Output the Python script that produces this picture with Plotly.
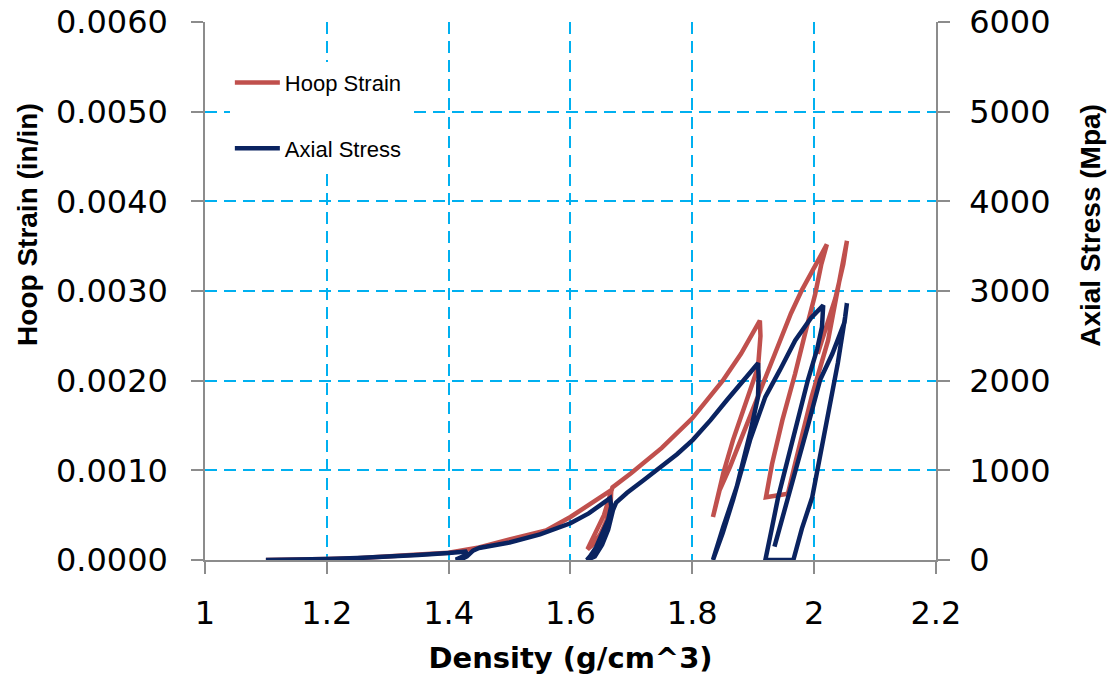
import plotly.graph_objects as go

# ---------------- data ----------------
hoop_density = [
    1.10, 1.15, 1.20, 1.25, 1.29, 1.35, 1.40, 1.45, 1.50, 1.56, 1.60, 1.635, 1.667,
    1.666, 1.660, 1.650, 1.640, 1.628,
    1.640, 1.655, 1.669, 1.70, 1.75, 1.80, 1.85, 1.88, 1.911,
    1.912, 1.908, 1.890, 1.867, 1.851, 1.837, 1.834,
    1.845, 1.862, 1.890, 1.915, 1.941, 1.962, 1.980, 2.000, 2.021,
    2.012, 2.002, 1.985, 1.969, 1.948, 1.931, 1.921,
    1.940, 1.957,
    1.969, 1.996, 2.023, 2.039, 2.054,
    2.048, 2.035, 2.020, 2.006,
]
hoop_strain = [
    0.00000, 0.00000, 0.00001, 0.00002, 0.00004, 0.00006, 0.00008, 0.00014, 0.00023, 0.00033, 0.00048, 0.00063, 0.00078,
    0.00062, 0.00045, 0.00030, 0.00019, 0.00012,
    0.00029, 0.00050, 0.00081, 0.00097, 0.00125, 0.00158, 0.00200, 0.00230, 0.00267,
    0.00250, 0.00215, 0.00178, 0.00134, 0.00097, 0.00059, 0.00048,
    0.00078, 0.00104, 0.00152, 0.00195, 0.00240, 0.00275, 0.00301, 0.00326, 0.00352,
    0.00330, 0.00297, 0.00252, 0.00208, 0.00156, 0.00107, 0.00070,
    0.00072, 0.00074,
    0.00108, 0.00182, 0.00245, 0.00301, 0.00356,
    0.00330, 0.00292, 0.00260, 0.00230,
]

stress_density = [
    1.10, 1.15, 1.20, 1.25, 1.29, 1.35, 1.40, 1.43,
    1.425, 1.412, 1.418, 1.430, 1.440,
    1.45, 1.50, 1.55, 1.60, 1.63, 1.665,
    1.667, 1.662, 1.652, 1.642, 1.632, 1.627,
    1.640, 1.652, 1.662, 1.670, 1.675, 1.693, 1.72, 1.747, 1.775, 1.801, 1.83, 1.857, 1.885, 1.908,
    1.909, 1.908, 1.895, 1.873, 1.851, 1.834,
    1.850, 1.867, 1.895, 1.920, 1.944, 1.969, 1.995, 2.015,
    2.013, 2.005, 1.990, 1.969, 1.955, 1.941, 1.930, 1.920,
    1.966,
    1.980, 1.997, 2.023, 2.039, 2.051, 2.054,
    2.050, 2.030, 2.010, 1.990, 1.970, 1.950, 1.935,
]
axial_stress = [
    0, 3, 12, 22, 33, 55, 78, 95,
    45, 5, 0, 40, 105,
    134, 195, 285, 410, 520, 690,
    600, 450, 280, 140, 40, 0,
    40, 170, 340, 560, 640, 750, 890, 1025, 1180, 1340, 1560, 1785, 2000, 2195,
    2050, 1820, 1415, 815, 370, 0,
    300, 670, 1340, 1820, 2120, 2450, 2700, 2840,
    2600, 2350, 2010, 1450, 1080, 700, 330, 0,
    0,
    350, 700, 1640, 2195, 2710, 2865,
    2650, 2300, 2010, 1500, 1000, 500, 150,
]

x_ticks = [1, 1.2, 1.4, 1.6, 1.8, 2, 2.2]
x_tick_labels = ["1", "1.2", "1.4", "1.6", "1.8", "2", "2.2"]
y_ticks = [0, 0.001, 0.002, 0.003, 0.004, 0.005, 0.006]
y_tick_labels = ["0.0000", "0.0010", "0.0020", "0.0030", "0.0040", "0.0050", "0.0060"]
y2_ticks = [0, 1000, 2000, 3000, 4000, 5000, 6000]
y2_tick_labels = ["0", "1000", "2000", "3000", "4000", "5000", "6000"]

# ---------------- figure ----------------
RED = "#C0504D"
NAVY = "#0A2360"
GRID = "#00B0F0"
AXIS = "#8C8C8C"

fig = go.Figure()
fig.add_trace(go.Scatter(
    x=hoop_density, y=hoop_strain, mode="lines", name="Hoop Strain",
    line=dict(color=RED, width=4.5), legendgroup="h",
))
fig.add_trace(go.Scatter(
    x=stress_density, y=axial_stress, mode="lines", name="Axial Stress",
    line=dict(color=NAVY, width=4.5), legendgroup="a", yaxis="y2",
))

tick_font = dict(family="DejaVu Sans", size=32, color="black")
grid = dict(showgrid=True, gridcolor=GRID, gridwidth=1.5, griddash="12px,7px")

fig.update_layout(
    width=1107, height=675,
    margin=dict(l=197, r=179, t=14, b=123),
    paper_bgcolor="white", plot_bgcolor="white",
    showlegend=True,
    xaxis=dict(
        range=[1, 2.2002], tickvals=x_ticks, ticktext=x_tick_labels, automargin=False,
        showline=True, linecolor=AXIS, linewidth=1.5, mirror=False,
        ticks="outside", ticklen=12, tickcolor=AXIS, tickwidth=1.5,
        tickfont=tick_font, ticklabelstandoff=12, zeroline=False,
        ticklabeloverflow="allow",
        title=dict(text="Density (g/cm^3)", standoff=17,
                   font=dict(family="DejaVu Sans", size=29, color="black", weight="bold")),
        **grid,
    ),
    yaxis=dict(
        range=[0, 0.0060008], tickvals=y_ticks, ticktext=y_tick_labels, automargin=False,
        showline=True, linecolor=AXIS, linewidth=1.5,
        ticks="outside", ticklen=12, tickcolor=AXIS, tickwidth=1.5,
        tickfont=tick_font, ticklabelstandoff=17, zeroline=False,
        ticklabeloverflow="allow",
        **grid,
    ),
    yaxis2=dict(
        range=[0, 6000.8], tickvals=y2_ticks, ticktext=y2_tick_labels, automargin=False,
        overlaying="y", side="right", showgrid=False, zeroline=False,
        showline=True, linecolor=AXIS, linewidth=1.5,
        ticks="outside", ticklen=12, tickcolor=AXIS, tickwidth=1.5,
        tickfont=tick_font, ticklabelstandoff=13,
        ticklabeloverflow="allow",
    ),
    legend=dict(
        x=0.034, y=0.926, xanchor="left", yanchor="top",
        bgcolor="white", borderwidth=0,
        font=dict(family="Liberation Sans", size=22, color="black"),
        tracegroupgap=34, itemwidth=45,
    ),
    annotations=[
        dict(text="Hoop Strain (in/in)", textangle=-90, xref="paper", yref="paper",
             x=-0.242, y=0.623, xanchor="center", yanchor="middle", showarrow=False,
             font=dict(family="Liberation Sans", size=28, color="black", weight="bold")),
        dict(text="Axial Stress (Mpa)", textangle=-90, xref="paper", yref="paper",
             x=1.212, y=0.623, xanchor="center", yanchor="middle", showarrow=False,
             font=dict(family="Liberation Sans", size=28, color="black", weight="bold")),
    ],
)

fig.write_html("out.html")
